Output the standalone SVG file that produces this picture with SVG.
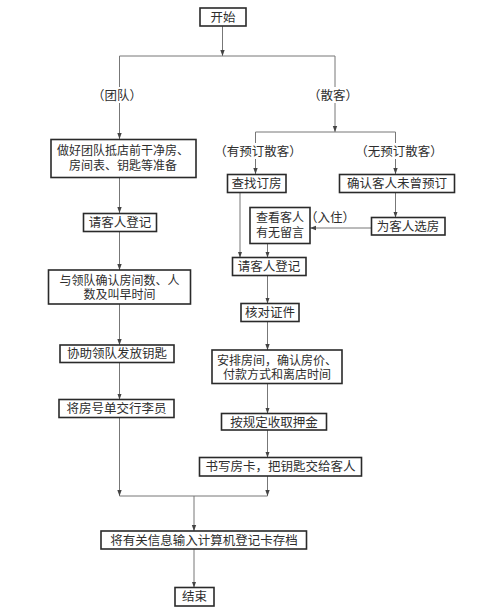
<svg xmlns="http://www.w3.org/2000/svg" width="481" height="612" viewBox="0 0 481 612">
<style>
.n rect{fill:#fff;stroke:#2a2a2a;stroke-width:1.6}
text{font-family:"Noto Sans CJK SC","Noto Sans CJK JP",sans-serif;font-size:12.5px;fill:#2e2e2e;text-anchor:middle}
.m text{font-size:12px}
.c line,.c path{stroke:#777;stroke-width:1;fill:none}
.a{marker-end:url(#ah)}
.lb{fill:#fff;stroke:none}
</style>
<defs>
<marker id="ah" viewBox="0 0 6 6" refX="6" refY="3" markerWidth="6" markerHeight="6" markerUnits="userSpaceOnUse" orient="auto">
<path d="M0,0.8 L6,3 L0,5.2 Z" fill="#444"/>
</marker>
</defs>
<g class="c" id="connectors">
<line class="a" x1="222.5" y1="26" x2="222.5" y2="56"/>
<line x1="119.5" y1="56" x2="335" y2="56"/>
<line class="a" x1="119.5" y1="56" x2="119.5" y2="139"/>
<line class="a" x1="335" y1="56" x2="335" y2="132"/>
<line x1="255.5" y1="132" x2="395.5" y2="132"/>
<line class="a" x1="255.5" y1="132" x2="255.5" y2="174"/>
<line class="a" x1="395.5" y1="132" x2="395.5" y2="174"/>
<line class="a" x1="119.5" y1="177.5" x2="119.5" y2="213"/>
<line class="a" x1="119.5" y1="231.5" x2="119.5" y2="270"/>
<line class="a" x1="119.5" y1="304" x2="119.5" y2="345"/>
<line class="a" x1="119.5" y1="362.5" x2="119.5" y2="399.5"/>
<line class="a" x1="119.5" y1="417.5" x2="119.5" y2="496"/>
<line class="a" x1="395.5" y1="192.5" x2="395.5" y2="217.5"/>
<line class="a" x1="371.5" y1="228" x2="310" y2="228"/>
<line class="a" x1="240" y1="192.5" x2="240" y2="257.5"/>
<line class="a" x1="267.5" y1="243.5" x2="267.5" y2="257.5"/>
<line class="a" x1="267.5" y1="275.5" x2="267.5" y2="303.5"/>
<line class="a" x1="267.5" y1="321.5" x2="267.5" y2="350"/>
<line class="a" x1="267.5" y1="383.5" x2="267.5" y2="413.5"/>
<line class="a" x1="267.5" y1="430" x2="267.5" y2="457.5"/>
<line class="a" x1="267.5" y1="476" x2="267.5" y2="496"/>
<line x1="119.5" y1="496" x2="267.5" y2="496"/>
<line class="a" x1="194" y1="496" x2="194" y2="531"/>
<line class="a" x1="194" y1="549" x2="194" y2="587.5"/>
<rect class="lb" x="96" y="87" width="44" height="16"/>
<rect class="lb" x="312" y="87" width="44" height="16"/>
<rect class="lb" x="216" y="143" width="84" height="16"/>
<rect class="lb" x="357" y="143" width="84" height="16"/>
<text x="117" y="100">（团队）</text>
<text x="333" y="100">（散客）</text>
<text x="258" y="156">（有预订散客）</text>
<text x="399" y="156">（无预订散客）</text>
<text x="330" y="222">（入住）</text>
</g>
<g class="n" id="start"><rect x="200" y="8" width="46" height="18"/><text x="223" y="21.5">开始</text></g>
<g class="n m" id="team1"><rect x="51" y="139.5" width="145" height="38"/><text x="123" y="155">做好团队抵店前干净房、</text><text x="123" y="170">房间表、钥匙等准备</text></g>
<g class="n" id="team2"><rect x="83.5" y="213.5" width="73" height="18"/><text x="120" y="227">请客人登记</text></g>
<g class="n m" id="team3"><rect x="48.5" y="270" width="142" height="34"/><text x="119.5" y="284.5">与领队确认房间数、人</text><text x="119.5" y="299">数及叫早时间</text></g>
<g class="n" id="team4"><rect x="60" y="345" width="114" height="17.5"/><text x="117" y="358">协助领队发放钥匙</text></g>
<g class="n" id="team5"><rect x="59" y="399.5" width="115" height="18"/><text x="116.5" y="413">将房号单交行李员</text></g>
<g class="n" id="find"><rect x="227.5" y="174.5" width="58.5" height="18"/><text x="256.5" y="188">查找订房</text></g>
<g class="n" id="confirm"><rect x="339.5" y="174.5" width="115" height="18"/><text x="397" y="188">确认客人未曾预订</text></g>
<g class="n" id="choose"><rect x="371.5" y="217.5" width="73.5" height="17.5"/><text x="408" y="231">为客人选房</text></g>
<g class="n m" id="message"><rect x="250" y="207.5" width="60" height="36"/><text x="280" y="222">查看客人</text><text x="280" y="237">有无留言</text></g>
<g class="n" id="register"><rect x="232.5" y="257.5" width="73.5" height="18"/><text x="269" y="271">请客人登记</text></g>
<g class="n" id="verify"><rect x="241" y="303.5" width="58" height="18"/><text x="270" y="317">核对证件</text></g>
<g class="n m" id="arrange"><rect x="212" y="350" width="130" height="33.5"/><text x="277" y="364.5">安排房间，确认房价、</text><text x="277" y="379">付款方式和离店时间</text></g>
<g class="n" id="deposit"><rect x="221.5" y="413.5" width="105" height="16.5"/><text x="274" y="426.5">按规定收取押金</text></g>
<g class="n" id="card"><rect x="199.5" y="457.5" width="162" height="18.5"/><text x="280.5" y="471">书写房卡，把钥匙交给客人</text></g>
<g class="n" id="record"><rect x="101" y="531" width="205.5" height="18"/><text x="204" y="544.5">将有关信息输入计算机登记卡存档</text></g>
<g class="n" id="end"><rect x="175" y="587.5" width="39" height="18.5"/><text x="194.5" y="601">结束</text></g>
</svg>
